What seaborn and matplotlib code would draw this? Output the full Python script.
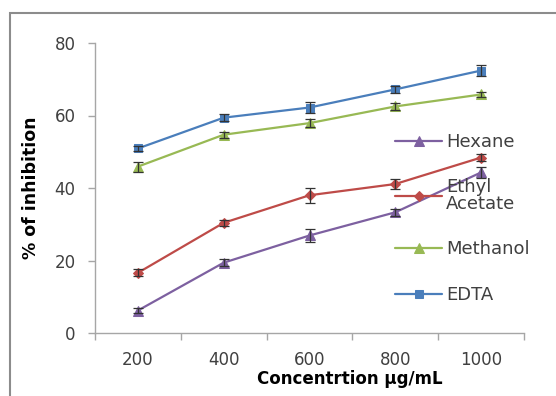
import numpy as np
import pandas as pd
import matplotlib
matplotlib.use('Agg')
import matplotlib.pyplot as plt
import seaborn as sns
from matplotlib.patches import Rectangle
from matplotlib.ticker import FixedLocator

# concentrations (ug/mL) and % inhibition
concentrations = ['200', '400', '600', '800', '1000']
hexane = [6.2, 19.4, 26.9, 33.3, 44.3]
hexane_err = [0.8, 0.9, 1.8, 1.0, 1.5]
ethyl_acetate = [16.6, 30.4, 38.0, 41.1, 48.4]
ethyl_acetate_err = [1.0, 0.8, 2.0, 1.4, 1.0]
methanol = [45.9, 54.7, 57.9, 62.5, 65.8]
methanol_err = [1.4, 0.8, 1.0, 1.0, 0.6]
edta = [50.9, 59.4, 62.2, 67.2, 72.4]
edta_err = [0.8, 0.9, 1.4, 0.9, 1.4]

series = [
    ('Hexane', hexane, hexane_err, '#7d60a0', '^', 7),
    ('Ethyl\nAcetate', ethyl_acetate, ethyl_acetate_err, '#be4b48', 'D', 5),
    ('Methanol', methanol, methanol_err, '#98b954', '^', 7),
    ('EDTA', edta, edta_err, '#4a7ebb', 's', 6),
]

sns.set_style('white')
plt.rcParams['font.family'] = ['DejaVu Sans']

fig = plt.figure(figsize=(5.56, 3.96), dpi=100)
ax = fig.add_axes([95 / 556, 1 - 333 / 396, 429 / 556, 290 / 396])

# outer chart frame (cropped at right and bottom)
fig.patches.append(Rectangle((10 / 556, -0.2), 1.2, 1.2 - 13 / 396,
                             transform=fig.transFigure, fill=False,
                             edgecolor='#8c8c8c', linewidth=1.5))

for name, vals, errs, color, marker, ms in series:
    sns.lineplot(x=concentrations, y=vals, ax=ax, color=color, marker=marker,
                 markersize=ms, markeredgecolor=color, linewidth=1.6, label=name,
                 sort=False)
    ax.errorbar(concentrations, vals, yerr=errs, fmt='none', ecolor='#333333',
                elinewidth=0.9, capsize=3.5, capthick=0.9)

ax.set_ylim(0, 80)
ax.set_xlim(-0.5, 4.5)
ax.set_yticks([0, 20, 40, 60, 80])
ax.xaxis.set_minor_locator(FixedLocator(np.arange(-0.5, 5, 1.0)))
ax.tick_params(axis='x', which='major', length=0, pad=13, labelsize=12, colors='#404040')
ax.tick_params(axis='x', which='minor', length=5, width=1, color='#a6a6a6', direction='out', bottom=True)
ax.tick_params(axis='y', length=5, width=1, color='#a6a6a6', direction='out', left=True,
               pad=9, labelsize=12, labelcolor='#404040')

for side in ['top', 'right']:
    ax.spines[side].set_visible(False)
for side in ['left', 'bottom']:
    ax.spines[side].set_color('#a6a6a6')
    ax.spines[side].set_linewidth(1)

ax.set_ylabel('% of inhibition', fontsize=12.5, fontweight='bold', color='#000000')
ax.yaxis.set_label_coords(-0.129, 0.5)
ax.set_xlabel('Concentrtion µg/mL', fontsize=12, fontweight='bold', color='#000000')
ax.xaxis.set_label_coords(0.594, -0.127)

leg = ax.legend(loc='upper left', bbox_to_anchor=(0.70, 0.69), frameon=False,
                fontsize=13, labelspacing=1.52, handlelength=2.6, handletextpad=0.2,
                borderpad=0, borderaxespad=0)
for t in leg.get_texts():
    t.set_color('#404040')
    t.set_linespacing(0.9)

fig.savefig('out.png', dpi=100)
